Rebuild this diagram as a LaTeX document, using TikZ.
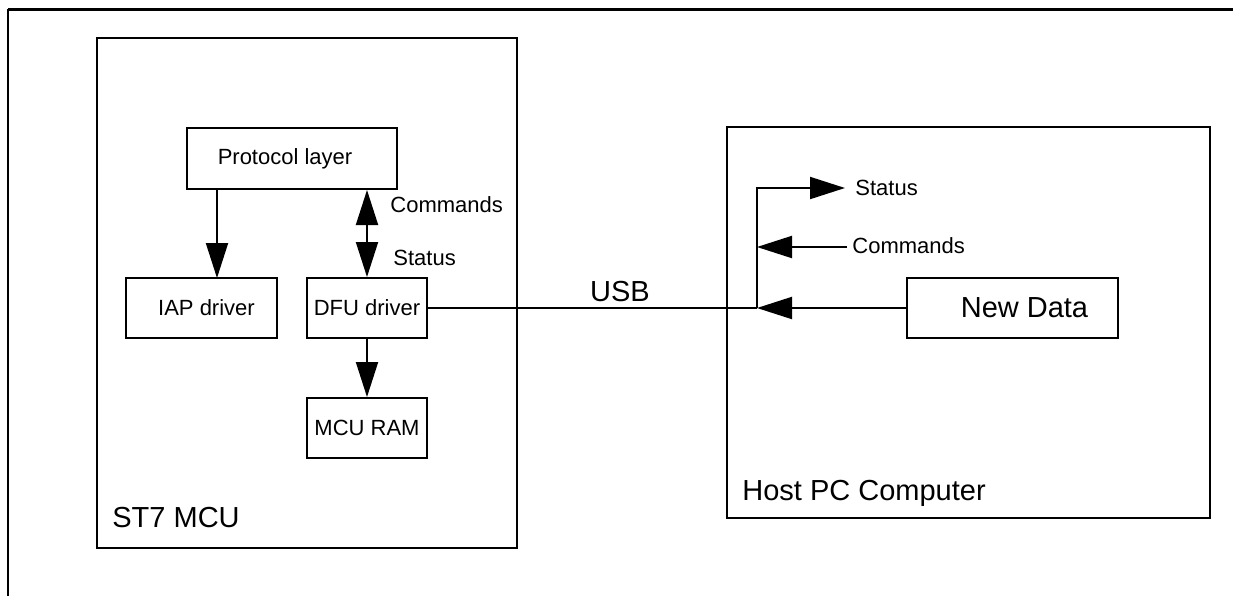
\documentclass[tikz,border=0pt]{standalone}
\usepackage{fontspec}
\setmainfont{Liberation Sans}
\usetikzlibrary{arrows.meta}

\tikzset{
  blk/.style={draw, line width=1pt, inner sep=0pt, minimum height=30pt},
  lbl/.style={font=\fontsize{11}{13}\selectfont, inner sep=0pt},
  biglbl/.style={font=\fontsize{14.5}{17}\selectfont, inner sep=0pt},
  arr/.style={line width=1pt, -{Triangle[length=17.5pt,width=11pt]}},
  dblarr/.style={line width=1pt, {Triangle[length=17.5pt,width=11pt]}-{Triangle[length=17.5pt,width=11pt]}},
}

\begin{document}
\begin{tikzpicture}[x=0.5pt, y=-0.5pt]
  \useasboundingbox (0,0) rectangle (1233,596);
  % outer frame
  \draw[line width=1.5pt] (8,9) -- (1233,9);
  \draw[line width=1pt] (8,9) -- (8,596);

  % the two units
  \node[draw, line width=1pt, minimum width=210pt, minimum height=255pt] (st7) at (307,293) {};
  \node[draw, line width=1pt, minimum width=241.5pt, minimum height=195.5pt] (host) at (968.5,322.5) {};
  \node[biglbl, anchor=west] (st7name) at (112,518) {ST7 MCU};
  \node[biglbl, anchor=west] (hostname) at (742,493) {Host PC Computer};

  % inside the MCU
  \node[blk, lbl, minimum width=105pt, minimum height=30.5pt] (proto) at (292,158.5) {Protocol layer\hspace*{7pt}};
  \node[blk, lbl, minimum width=75.5pt] (iap) at (201.5,308) {\hspace*{5pt}IAP driver};
  \node[blk, lbl, minimum width=60pt] (dfu) at (367,308) {DFU driver};
  \node[blk, lbl, minimum width=60pt] (ram) at (367,428) {MCU RAM};

  \coordinate (iapin) at (217,278);
  \draw[arr] (proto.south -| iapin) -- (iapin);
  \draw[dblarr] (proto.south -| dfu) -- (dfu.north);
  \draw[arr] (dfu.south) -- (ram.north);
  \node[lbl, anchor=west] (cmdl) at (390,205) {Commands};
  \node[lbl, anchor=west] (statl) at (393,258) {Status};

  % USB link
  \coordinate (jn) at (757,308);
  \draw[line width=1pt] (dfu.east) -- (jn);
  \node[biglbl] (usb) at (620,292) {USB};

  % inside the host
  \node[blk, biglbl, minimum width=105.5pt] (newdata) at (1012.5,308) {\hspace*{12pt}New Data};
  \coordinate (st) at (845,188);
  \coordinate (cm) at (847,247);
  \draw[arr] (jn) -- (jn |- st) -- (st);
  \draw[arr] (cm) -- (cm -| jn);
  \draw[arr] (newdata.west) -- (jn);
  \node[lbl, anchor=west] (statr) at (855,188) {Status};
  \node[lbl, anchor=west] (cmdr) at (852,246) {Commands};
\end{tikzpicture}
\end{document}
